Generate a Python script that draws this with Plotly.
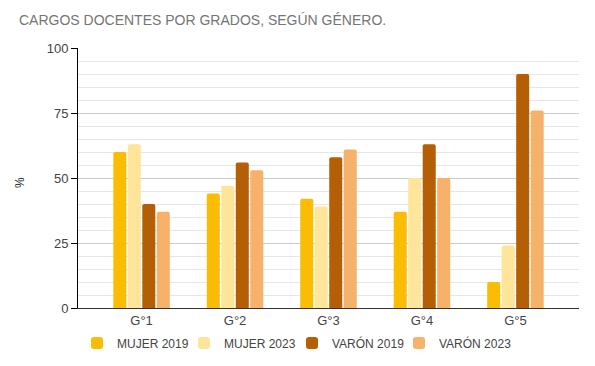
import plotly.graph_objects as go

categories = ["G°1", "G°2", "G°3", "G°4", "G°5"]
mujer_2019 = [60, 44, 42, 37, 10]
mujer_2023 = [63, 47, 39, 50, 24]
varon_2019 = [40, 56, 58, 63, 90]
varon_2023 = [37, 53, 61, 50, 76]
series_names = ["MUJER 2019", "MUJER 2023", "VARÓN 2019", "VARÓN 2023"]
series_colors = ["#fbbc04", "#ffe599", "#b45f06", "#f6b26b"]
y_ticks = [0, 25, 50, 75, 100]

font_family = "Liberation Sans, Arial, sans-serif"
legend_ids = ["legend", "legend2", "legend3", "legend4"]
legend_px = [77, 184, 292, 399]

fig = go.Figure()
for name, vals, col, lid in zip(series_names, [mujer_2019, mujer_2023, varon_2019, varon_2023],
                                series_colors, legend_ids):
    fig.add_trace(go.Bar(x=categories, y=vals, name=name, legend=lid,
                         marker=dict(color=col, line=dict(width=0))))

legend_layouts = {}
for lid, px in zip(legend_ids, legend_px):
    legend_layouts[lid] = dict(orientation="h", x=(px - 78) / 501, xanchor="left", y=-35/260,
                               yanchor="middle", font=dict(size=12, color="#444444"),
                               bgcolor="rgba(0,0,0,0)")

fig.update_layout(
    width=595, height=366,
    paper_bgcolor="white", plot_bgcolor="white",
    margin=dict(l=78, r=16, t=48, b=58, autoexpand=False),
    title=dict(text="CARGOS DOCENTES POR GRADOS, SEGÚN GÉNERO.", x=19/595, xanchor="left", xref="container",
               y=1-20/366, yanchor="middle", yref="container", pad=dict(l=0, r=0, t=0, b=0),
               font=dict(family=font_family, size=14, color="#757575")),
    font=dict(family=font_family, size=13, color="#444444"),
    barmode="group", bargap=0.38, bargroupgap=0.1, barcornerradius=2,
    showlegend=True,
    xaxis=dict(showline=True, linecolor="#333333", linewidth=1, ticks="", showgrid=False,
               range=[-0.68, 4.68], tickfont=dict(size=13, color="#444444"), automargin=False),
    yaxis=dict(range=[0, 100], tickvals=y_ticks, showline=True, linecolor="#000000", linewidth=1,
               ticks="outside", ticklen=6, tickcolor="#000000",
               showgrid=True, gridcolor="#cccccc", gridwidth=1, zeroline=False,
               minor=dict(dtick=5, showgrid=True, gridcolor="#e6e6e6", ticks=""),
               tickfont=dict(size=13, color="#444444"), automargin=False),
    annotations=[dict(text="%", xref="paper", yref="paper", x=-58/501, y=(308-183)/260,
                      xanchor="center", yanchor="middle", showarrow=False, textangle=-90,
                      font=dict(size=12, color="#222222"))],
    **legend_layouts,
)
fig.write_html("out.html", config={"displayModeBar": False},
               post_script="document.body.style.margin='0';")
